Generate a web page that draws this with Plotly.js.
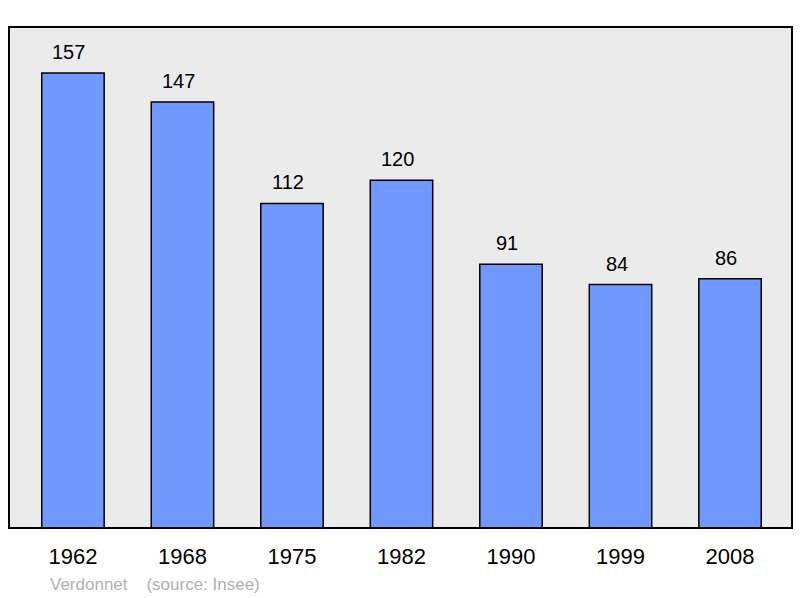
<!DOCTYPE html>
<html><head><meta charset="utf-8">
<script src="https://cdn.plot.ly/plotly-3.0.1.min.js"></script>
<style>html,body{margin:0;padding:0;background:#fff;}#chart{width:800px;height:598px;}</style>
</head><body><div id="chart"></div>
<script>
var years = ["1962","1968","1975","1982","1990","1999","2008"];
var population = [157,147,112,120,91,84,86];
var sourceText = "Verdonnet    (source: Insee)";

var trace = {
  type: "bar",
  x: years,
  y: population,
  width: 0.57,
  marker: {color: "#7099ff", line: {color: "#000", width: 1.5}},
  hoverinfo: "none"
};
var annotations = years.map(function(y, i){
  return {x: i, y: population[i], xref: "x", yref: "y", text: String(population[i]),
    showarrow: false, yanchor: "bottom", yshift: 8, xshift: -4,
    font: {family: "Liberation Sans, Arial, sans-serif", size: 20, color: "#000"}};
});
annotations.push({x: 0, y: 0, xref: "paper", yref: "paper", yshift: -68, xshift: 39,
  text: sourceText.replace(/ /g, "&nbsp;"), showarrow: false, xanchor: "left", yanchor: "bottom",
  font: {family: "Liberation Sans, Arial, sans-serif", size: 17, color: "#b0b0b0"}});
var layout = {
  width: 800, height: 598,
  margin: {l: 9, r: 8, t: 27, b: 70},
  paper_bgcolor: "#fff",
  plot_bgcolor: "#ebebeb",
  showlegend: false,
  xaxis: {type: "category", range: [-0.584, 6.566], showgrid: false, zeroline: false,
    ticks: "outside", ticklen: 9, tickcolor: "rgba(0,0,0,0)", showline: false,
    tickfont: {family: "Liberation Sans, Arial, sans-serif", size: 22, color: "#000"}},
  yaxis: {range: [0, 172.9], showgrid: false, zeroline: false, showticklabels: false, ticks: "", showline: false},
  annotations: annotations,
  shapes: [{type: "rect", xref: "paper", yref: "paper", x0: 0, x1: 1, y0: 0, y1: 1,
    line: {color: "#000", width: 2}, fillcolor: "rgba(0,0,0,0)"}]
};
Plotly.newPlot("chart", [trace], layout, {displayModeBar: false, staticPlot: true});
</script></body></html>
